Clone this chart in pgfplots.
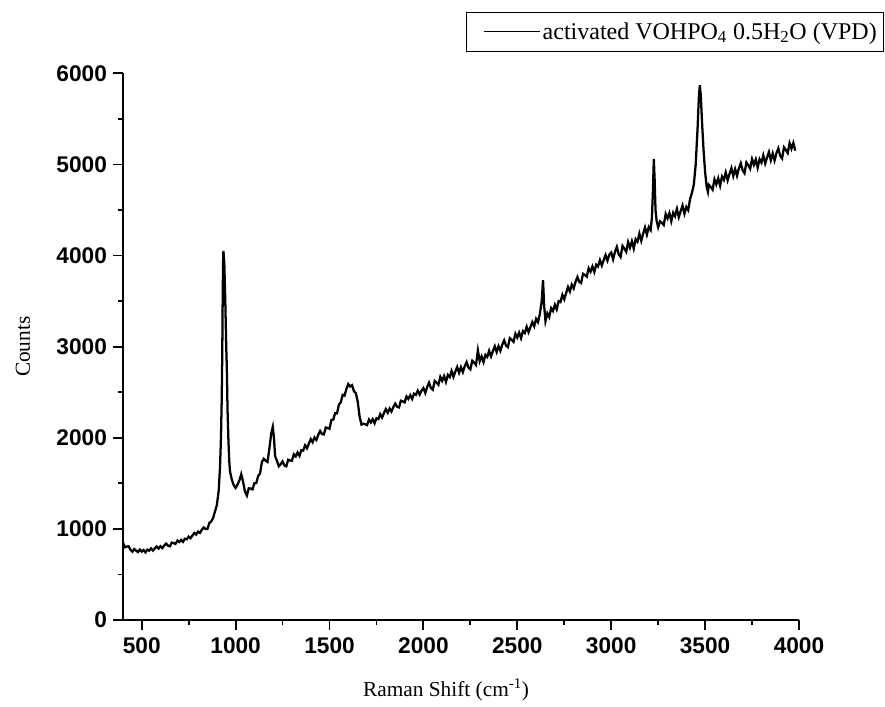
\documentclass[border=0pt]{standalone}
\usepackage{fontspec}
\setmainfont{Liberation Serif}
\newfontfamily\arialfont{Liberation Sans}
\usepackage{pgfplots}
\pgfplotsset{compat=1.18}
\begin{document}
\begin{tikzpicture}
\begin{axis}[
 name=ax,
 scale only axis,
 width=507pt, height=410pt,
 xmin=400, xmax=4000, ymin=0, ymax=6000,
 axis lines=left,
 axis line style={-, line width=1.4pt},
 tick align=outside,
 major tick length=7.5pt, minor tick length=3.5pt,
 every tick/.style={black, line width=1.4pt},
 minor tick num=1,
 xtick={500,1000,...,4000},
 ytick={0,1000,...,6000},
 tick label style={font=\arialfont\bfseries\fontsize{17}{20}\selectfont},
 xticklabel style={yshift=-2pt},
 yticklabel style={xshift=-1pt},
 /pgf/number format/assume math mode=true,
 /pgf/number format/set thousands separator={},
 xlabel={Raman Shift (cm\textsuperscript{-1})},
 ylabel={Counts},
 label style={font=\fontsize{16}{19}\selectfont},
 xlabel style={at={(axis description cs:0.478,-0.128)}, anchor=center},
 ylabel style={at={(axis description cs:-0.148,0.5)}, anchor=center},
 legend style={at={(1,1)}, anchor=north east, xshift=63.75pt, yshift=46pt,
   draw=black, line width=0.8pt, fill=white, font=\fontsize{18}{21}\selectfont,
   inner xsep=3pt, inner ysep=5.5pt},
 legend cell align=left,
 legend image code/.code={\path (-9pt,0pt); \draw[line width=0.6pt] (0pt,0pt) -- (42pt,0pt);},
]
\addplot[black, line width=1.7pt] coordinates {
(400,850) (410,799) (420,806) (430,810) (440,772) (450,750) (460,779) (470,762) (480,745) (490,773)
(500,751) (510,769) (520,742) (530,772) (540,761) (550,786) (560,762) (570,786) (580,808) (590,784)
(600,810) (610,790) (620,818) (630,838) (640,816) (650,810) (660,850) (670,844) (680,836) (690,872)
(700,856) (710,880) (720,858) (730,892) (740,886) (750,916) (760,898) (770,928) (780,956) (790,938)
(800,970) (810,956) (820,990) (830,1016) (840,1000) (850,1000) (860,1064) (870,1082) (880,1118) (890,1190)
(900,1260) (910,1420) (917,1680) (922,2000) (926,2420) (929,2950) (931,3500) (933,3900) (935,4050)
(937,4000) (940,3900) (945,3500) (950,3000) (953,2780) (957,2300) (962,1950) (966,1750) (970,1630)
(980,1540) (990,1480) (1000,1450)
(1010,1487) (1020,1532) (1030,1600) (1040,1515) (1050,1406) (1060,1365) (1070,1445) (1080,1444) (1090,1434)
(1100,1502) (1110,1503) (1120,1581) (1130,1608) (1140,1734) (1150,1770) (1160,1748) (1170,1735) (1180,1887)
(1190,2050) (1198,2120) (1205,1980) (1210,1800)
(1220,1747) (1230,1687) (1240,1710) (1250,1740) (1260,1696) (1270,1687) (1280,1759) (1290,1750)
(1300,1749) (1310,1818) (1320,1795) (1330,1839) (1340,1802) (1350,1864) (1360,1860) (1370,1918) (1380,1885) (1390,1937)
(1400,1985) (1410,1951) (1420,2003) (1430,1976) (1440,2032) (1450,2075) (1460,2042) (1470,2037) (1480,2113) (1490,2108)
(1500,2099) (1510,2195) (1520,2200) (1530,2271) (1540,2268) (1550,2364) (1560,2390) (1570,2471) (1580,2462) (1590,2537)
(1600,2590) (1610,2563) (1620,2577) (1630,2512) (1640,2490) (1650,2400) (1660,2236) (1670,2145) (1680,2155) (1690,2149)
(1700,2139) (1710,2200) (1720,2169) (1730,2205) (1740,2160) (1750,2214) (1760,2206) (1770,2260) (1780,2223) (1790,2271)
(1800,2315) (1810,2275) (1820,2321) (1830,2288) (1840,2338) (1850,2375) (1860,2340) (1870,2333) (1880,2407) (1890,2400)
(1900,2389) (1910,2454) (1920,2427) (1930,2467) (1940,2426) (1950,2484) (1960,2470) (1970,2518) (1980,2475) (1990,2517)
(2000,2545) (2010,2492) (2020,2558) (2030,2605) (2040,2546) (2050,2528) (2060,2624) (2070,2606) (2080,2582) (2090,2669)
(2100,2625) (2110,2677) (2120,2613) (2130,2690) (2140,2666) (2150,2733) (2160,2669) (2170,2726) (2180,2777) (2190,2714)
(2200,2775) (2210,2720) (2220,2785) (2230,2830) (2240,2770) (2250,2750) (2260,2845) (2270,2825) (2280,2800) (2290,2960)
(2300,2840) (2310,2893) (2320,2831) (2330,2909) (2340,2887) (2350,2955) (2360,2893) (2370,2951) (2380,3004) (2390,2942)
(2400,3005) (2410,2953) (2420,3021) (2430,3069) (2440,3012) (2450,2995) (2460,3093) (2470,3076) (2480,3054) (2490,3142)
(2500,3100) (2510,3154) (2520,3093) (2530,3171) (2540,3150) (2550,3219) (2560,3158) (2570,3216) (2580,3270) (2590,3225)
(2600,3305) (2610,3270) (2620,3355) (2630,3500) (2637,3730) (2643,3450) (2650,3280) (2660,3365) (2670,3324) (2680,3423) (2690,3392)
(2700,3460) (2710,3410) (2720,3500) (2730,3490) (2740,3570) (2750,3520) (2760,3590) (2770,3655) (2780,3605) (2790,3680)
(2800,3640) (2810,3712) (2820,3764) (2830,3711) (2840,3698) (2850,3800) (2860,3787) (2870,3769) (2880,3861) (2890,3823)
(2900,3880) (2910,3820) (2920,3900) (2930,3880) (2940,3950) (2950,3890) (2960,3950) (2970,4005) (2980,3945) (2990,4010)
(3000,4033) (3010,3958) (3020,4040) (3030,4095) (3040,4014) (3050,3985) (3060,4106) (3070,4077) (3080,4041) (3090,4149)
(3100,4087) (3110,4157) (3120,4077) (3130,4180) (3140,4152) (3150,4242) (3160,4162) (3170,4239) (3180,4309) (3190,4229)
(3200,4313) (3210,4280) (3217,4420) (3222,4700) (3227,5060) (3231,4850) (3236,4500) (3242,4380) (3250,4310)
(3260,4376) (3270,4359) (3280,4336) (3290,4456)
(3300,4407) (3310,4467) (3320,4377) (3330,4470) (3340,4432) (3350,4512) (3360,4422) (3370,4489) (3380,4549) (3390,4459)
(3400,4533) (3410,4498) (3420,4620) (3430,4690) (3440,4780) (3450,5000) (3460,5400) (3467,5750) (3472,5870) (3477,5760)
(3484,5450) (3492,5150) (3500,4920) (3508,4760) (3515,4700)
(3520,4776) (3530,4753) (3540,4723) (3550,4837) (3560,4781) (3570,4849) (3580,4767) (3590,4868)
(3600,4830) (3610,4913) (3620,4826) (3630,4896) (3640,4959) (3650,4872) (3660,4949) (3670,4875) (3680,4958) (3690,5014)
(3700,4934) (3710,4903) (3720,5022) (3730,4991) (3740,4953) (3750,5059) (3760,4995) (3770,5055) (3780,4965) (3790,5058)
(3800,5020) (3810,5100) (3820,5010) (3830,5077) (3840,5137) (3850,5047) (3860,5121) (3870,5044) (3880,5124) (3890,5177)
(3900,5094) (3910,5066) (3920,5188) (3930,5160) (3940,5125) (3950,5234) (3960,5173) (3970,5236) (3980,5151)
};
\addlegendentry{activated VOHPO\textsubscript{4} 0.5H\textsubscript{2}O (VPD)}
\end{axis}
\pgfresetboundingbox
\path ([xshift=-92.2pt,yshift=-64.5pt]ax.south west) rectangle ([xshift=64.5pt,yshift=55pt]ax.north east);
\end{tikzpicture}
\end{document}
